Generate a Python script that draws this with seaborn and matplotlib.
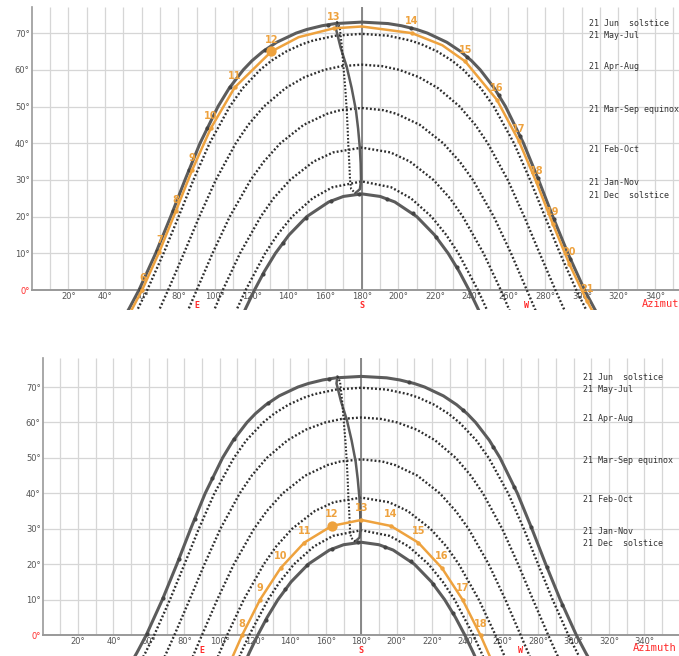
import numpy as np
import pandas as pd
import seaborn as sns
import matplotlib.pyplot as plt

# Sun path diagram, latitude ~40.4 N. Azimuth / altitude in degrees.

# 21st of the month curves (east side -> noon -> west side)
jun_az = [50.9, 53.2, 58.5, 67.6, 75.8, 83.6, 91.8, 101.6, 107.7, 115.4, 120.2, 126.1, 133.6,
          144.2, 150.1, 158.3, 165.7, 180.0,
          194.3, 201.7, 209.9, 215.8, 226.4, 233.9, 239.8, 244.6, 252.3, 258.4, 268.2,
          276.4, 284.2, 292.4, 301.5, 306.8, 309.1]
jun_alt = [-7, -5, 0, 10, 20, 30, 40, 50, 55, 60, 62.5, 65, 67.5, 70, 71, 72, 72.6, 73.0,
           72.6, 72, 71, 70, 67.5, 65, 62.5, 60, 55, 50, 40, 30, 20, 10, 0, -5, -7]

may_az = [55.8, 58.0, 63.0, 71.9, 80.1, 88.2, 97.0, 108.0, 115.1, 124.6, 130.8, 138.8, 147.6,
          153.6, 165.8, 180.0,
          194.2, 206.4, 212.4, 221.2, 229.2, 235.4, 244.9, 252.0, 263.0, 271.8, 279.9,
          288.1, 297.0, 302.0, 304.2]
may_alt = [-7, -5, 0, 10, 20, 30, 40, 50, 55, 60, 62.5, 65, 67, 68, 69.3, 69.8,
           69.3, 68, 67, 65, 62.5, 60, 55, 50, 40, 30, 20, 10, 0, -5, -7]

apr_az = [68.0, 69.9, 74.4, 83.0, 91.4, 100.4, 111.3, 118.1, 126.6, 138.4, 148.8, 159.6,
          168.9, 180.0,
          191.1, 200.4, 211.2, 221.6, 233.4, 241.9, 248.7, 259.6, 268.6, 277.0, 285.6,
          290.1, 292.0]
apr_alt = [-7, -5, 0, 10, 20, 30, 40, 45, 50, 55, 58, 60, 61, 61.4,
           61, 60, 58, 55, 50, 45, 40, 30, 20, 10, 0, -5, -7]

mar_az = [84.0, 85.7, 90.0, 98.6, 108.0, 119.4, 126.6, 135.6, 148.3, 161.0, 168.2, 180.0,
          191.8, 199.0, 211.7, 224.4, 233.4, 240.6, 252.0, 261.4, 270.0, 274.3, 276.0]
mar_alt = [-7, -5, 0, 10, 20, 30, 35, 40, 45, 48, 49, 49.6,
           49, 48, 45, 40, 35, 30, 20, 10, 0, -5, -7]

feb_az = [98.2, 99.9, 104.2, 113.6, 124.9, 131.9, 140.9, 153.7, 164.4, 180.0,
          195.6, 206.3, 219.1, 228.1, 235.1, 246.4, 255.8, 260.1, 261.8]
feb_alt = [-7, -5, 0, 10, 20, 25, 30, 35, 37.5, 38.8,
           37.5, 35, 30, 25, 20, 10, 0, -5, -7]

jan_az = [110.4, 112.1, 116.7, 127.3, 133.9, 142.0, 153.2, 164.0, 180.0,
          196.0, 206.8, 218.0, 226.1, 232.7, 243.3, 247.9, 249.6]
jan_alt = [-7, -5, 0, 10, 15, 20, 25, 28, 29.6, 28, 25, 20, 15, 10, 0, -5, -7]

dec_az = [114.9, 116.7, 121.5, 126.8, 132.9, 140.3, 150.0, 162.0, 170.0, 180.0,
          190.0, 198.0, 210.0, 219.7, 227.1, 233.2, 238.5, 243.3, 245.1]
dec_alt = [-7, -5, 0, 5, 10, 15, 20, 24, 25.5, 26.2, 25.5, 24, 20, 15, 10, 5, 0, -5, -7]

month_names = ["21 Jun  solstice", "21 May-Jul", "21 Apr-Aug", "21 Mar-Sep equinox",
               "21 Feb-Oct", "21 Jan-Nov", "21 Dec  solstice"]

# small hour dots on the two solstice curves
jun_hour_az = [58.9, 68.2, 77.0, 85.8, 95.7, 108.3, 127.4, 161.6, 206.9, 237.3, 254.6,
               266.4, 276.0, 284.8, 293.6]
jun_hour_alt = [0.4, 10.6, 21.5, 32.8, 44.2, 55.4, 65.5, 72.3, 71.4, 63.6, 53.2, 41.9,
                30.5, 19.3, 8.5]
dec_hour_az = [126.0, 136.9, 149.4, 163.4, 178.3, 193.6, 208.0, 220.7, 231.9]
dec_hour_alt = [4.3, 12.9, 19.7, 24.3, 26.2, 24.9, 20.9, 14.4, 6.2]

# analemma (same clock time over the year), two branches of the loop
ana_solid_az = [166.5, 166.0, 168.5, 171.8, 174.5, 176.8, 178.0, 178.9, 179.4, 179.6, 179.0, 176.5]
ana_solid_alt = [73.0, 71.0, 66.0, 60.8, 55.0, 49.0, 44.0, 39.0, 34.5, 30.0, 27.5, 26.4]
ana_dot_az = [166.5, 168.0, 169.2, 170.0, 171.0, 171.8, 172.3, 172.7, 173.2, 173.6, 174.2, 176.5]
ana_dot_alt = [73.0, 71.5, 66.0, 60.8, 55.0, 49.0, 44.0, 39.0, 34.5, 30.0, 27.5, 26.4]

# highlighted day, top panel (hours 6..21)
top_sun_az = [52.8, 60.3, 69.6, 78.5, 87.5, 97.7, 110.7, 130.7, 145.6, 164.7, 180.0, 207.3,
              223.9, 236.4, 253.6, 265.6, 275.3, 284.2, 293.1, 302.7, 307.2]
top_sun_alt = [-7, 0.1, 10.4, 21.4, 32.7, 44.1, 55.2, 65.0, 68.9, 71.3, 71.8, 70.0,
               66.7, 62.3, 51.9, 40.7, 29.3, 18.0, 7.2, -2.9, -7]
top_sun_hour = ["", "6", "7", "8", "9", "10", "11", "12", "", "13", "", "14",
                "", "15", "16", "17", "18", "19", "20", "21", ""]

# highlighted day, bottom panel (hours 8..18)
bot_sun_az = [106.5, 112.6, 122.8, 134.4, 147.8, 163.3, 180.0, 196.7, 212.2, 225.6, 237.2, 247.4, 253.5]
bot_sun_alt = [-7, -0.1, 10.0, 18.9, 26.1, 30.8, 32.5, 30.8, 26.1, 18.9, 10.0, -0.1, -7]
bot_sun_hour = ["", "8", "9", "10", "11", "12", "13", "14", "15", "16", "17", "18", ""]

now_hour = "12"

ORANGE = "#eea23e"
DARK = "#5c5c5c"
RED = "#ff2a2a"

sns.set_style("white")
plt.rcParams['font.family'] = ['DejaVu Sans']

fig = plt.figure(figsize=(6.79, 6.56), dpi=100)
ax_top = fig.add_axes([31.7 / 679, 0.5271, 1 - 31.7 / 679, 0.4616])
ax_bot = fig.add_axes([42.7 / 679, 0.0, 1 - 42.7 / 679, 0.4543])

months = [(jun_az, jun_alt), (may_az, may_alt), (apr_az, apr_alt), (mar_az, mar_alt),
          (feb_az, feb_alt), (jan_az, jan_alt), (dec_az, dec_alt)]


def draw_panel(ax, xmax, ymin, ymax, sun_az, sun_alt, sun_hour, legend_x, azim_x):
    ax.set_xlim(0, xmax)
    ax.set_ylim(ymin, ymax)

    # grid
    ax.vlines(np.arange(10, 360, 10), 0, ymax, color="#d6d6d6", lw=0.9, zorder=0)
    ax.hlines(np.arange(10, 80, 10), 0, xmax, color="#d6d6d6", lw=0.9, zorder=0)
    ax.vlines(180, 0, ymax, color="#808080", lw=1.3, zorder=1)

    # month curves
    for i, (az, alt) in enumerate(months):
        d = pd.DataFrame({"az": az, "alt": alt})
        if i == 0 or i == 6:
            sns.lineplot(data=d, x="az", y="alt", ax=ax, sort=False, estimator=None,
                         color=DARK, lw=2.2, zorder=3)
        else:
            sns.lineplot(data=d, x="az", y="alt", ax=ax, sort=False, estimator=None,
                         color="#2e2e2e", lw=1.7, linestyle=(0, (0.8, 0.9)), zorder=3)
        ax.text(legend_x, max(alt) - 0.4, month_names[i], fontsize=6, color="#333333",
                family="DejaVu Sans Mono", ha="left", va="center")

    sns.scatterplot(x=jun_hour_az + dec_hour_az, y=jun_hour_alt + dec_hour_alt, ax=ax,
                    color="#444444", s=9, linewidth=0, zorder=4)

    # analemma
    sns.lineplot(x=ana_solid_az, y=ana_solid_alt, ax=ax, sort=False, estimator=None,
                 color=DARK, lw=1.8, zorder=3)
    sns.lineplot(x=ana_dot_az, y=ana_dot_alt, ax=ax, sort=False, estimator=None,
                 color="#2e2e2e", lw=1.5, linestyle=(0, (0.8, 0.9)), zorder=3)

    # highlighted day with hour marks
    sd = pd.DataFrame({"az": sun_az, "alt": sun_alt, "hour": sun_hour})
    sns.lineplot(data=sd, x="az", y="alt", ax=ax, sort=False, estimator=None,
                 color=ORANGE, lw=1.8, zorder=4)
    hrs = sd[sd["hour"] != ""]
    sns.scatterplot(data=hrs, x="az", y="alt", ax=ax, color=ORANGE, s=10,
                    linewidth=0, zorder=5)
    now = sd[sd["hour"] == now_hour]
    sns.scatterplot(data=now, x="az", y="alt", ax=ax, color=ORANGE, s=55,
                    linewidth=0, zorder=5)
    for _, r in hrs.iterrows():
        ax.annotate(r["hour"], (r["az"], r["alt"]), xytext=(0, 8.5),
                    textcoords="offset points", ha="center", va="center",
                    color=ORANGE, fontsize=7, fontweight="bold", zorder=6)

    # axes
    ax.set_xticks(np.arange(20, 360, 20))
    ax.set_xticklabels([f"{v}°" for v in range(20, 360, 20)])
    ax.set_yticks(np.arange(0, 80, 10))
    ax.set_yticklabels([f"{v}°" for v in range(0, 80, 10)])
    ax.tick_params(length=0, labelsize=6, labelcolor="#555555", pad=1.5)
    ax.get_yticklabels()[0].set_color(RED)
    for s in ["top", "right"]:
        ax.spines[s].set_visible(False)
    ax.spines["bottom"].set_position(("data", 0))
    ax.spines["bottom"].set_color("#999999")
    ax.spines["bottom"].set_linewidth(1.4)
    ax.spines["left"].set_bounds(0, ymax)
    ax.spines["left"].set_color("#999999")
    ax.spines["left"].set_linewidth(1.2)
    ax.set_xlabel("")
    ax.set_ylabel("")

    for az, lab in [(90, "E"), (180, "S"), (270, "W")]:
        ax.text(az, -4.3, lab, color=RED, fontsize=6, fontweight="bold",
                ha="center", va="center", family="DejaVu Sans Mono")
    ax.text(azim_x, -3.7, "Azimuth", color=RED, fontsize=7.5, ha="right",
            va="center", family="DejaVu Sans Mono")


draw_panel(ax_top, 353, -5.5, 77.0, top_sun_az, top_sun_alt, top_sun_hour, 304.0, 356.5)
draw_panel(ax_bot, 359.5, -5.9, 78.2, bot_sun_az, bot_sun_alt, bot_sun_hour, 305.3, 358.4)

plt.savefig("out.png", dpi=100)
